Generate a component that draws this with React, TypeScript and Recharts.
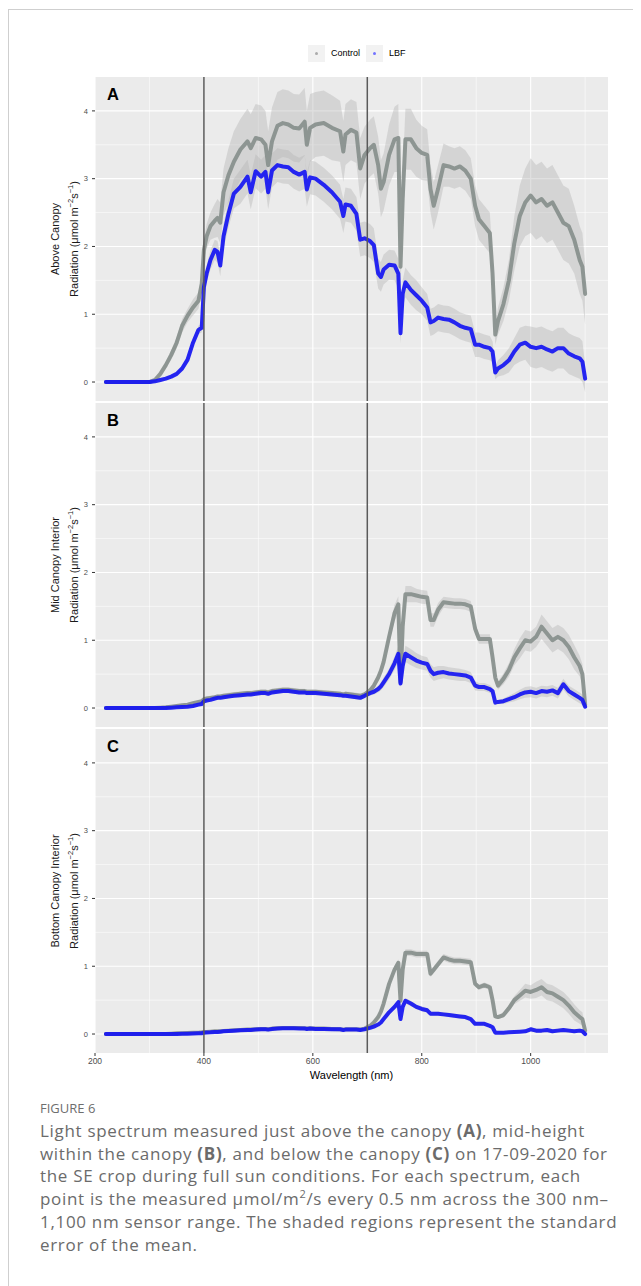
import React from 'react';
import { ComposedChart, Area, Line, XAxis, YAxis, CartesianGrid, ReferenceLine } from 'recharts';

// Wavelength grid (nm)
const wavelength = [
  220, 300, 310, 320, 330, 340, 350, 360, 370, 380,
  390, 396, 400, 405, 412, 420, 425, 430, 436, 445,
  455, 467, 480, 486, 495, 505, 513, 518, 525, 535,
  545, 555, 565, 575, 585, 589, 595, 605, 620, 635,
  650, 656, 660, 670, 680, 687, 695, 705, 712, 720,
  725, 730, 740, 750, 757, 761, 765, 770, 780, 790,
  800, 810, 816, 822, 830, 840, 850, 860, 870, 880,
  890, 898, 905, 915, 925, 930, 935, 940, 950, 960,
  970, 980, 990, 1000, 1010, 1020, 1030, 1040, 1050, 1060,
  1070, 1080, 1090, 1095, 1100,
];

// Panel A – above canopy
const ctrlA = [
  0, 0, 0.03, 0.12, 0.25, 0.40, 0.58, 0.83, 0.98, 1.10,
  1.20, 1.45, 1.95, 2.15, 2.30, 2.38, 2.42, 2.35, 2.80, 3.05,
  3.25, 3.43, 3.55, 3.45, 3.60, 3.58, 3.50, 3.20, 3.55, 3.78,
  3.82, 3.80, 3.75, 3.74, 3.84, 3.50, 3.75, 3.80, 3.82, 3.75,
  3.70, 3.40, 3.65, 3.72, 3.68, 3.15, 3.35, 3.45, 3.50, 3.20,
  2.85, 2.95, 3.35, 3.58, 3.60, 1.70, 2.70, 3.58, 3.58, 3.45,
  3.38, 3.35, 2.85, 2.60, 2.85, 3.20, 3.18, 3.15, 3.18, 3.12,
  3.00, 2.60, 2.40, 2.30, 2.20, 1.60, 0.70, 0.90, 1.15, 1.50,
  2.05, 2.45, 2.65, 2.75, 2.65, 2.70, 2.60, 2.65, 2.50, 2.35,
  2.30, 2.10, 1.80, 1.70, 1.30,
];
const lbfA = [
  0, 0, 0.01, 0.03, 0.05, 0.08, 0.12, 0.20, 0.33, 0.58,
  0.77, 0.80, 1.40, 1.60, 1.80, 1.95, 1.92, 1.72, 2.15, 2.48,
  2.78, 2.88, 3.03, 2.80, 3.11, 3.03, 3.10, 2.80, 3.12, 3.20,
  3.18, 3.17, 3.10, 3.06, 3.10, 2.84, 3.02, 3.00, 2.91, 2.80,
  2.66, 2.45, 2.62, 2.60, 2.48, 2.10, 2.12, 2.08, 2.02, 1.60,
  1.55, 1.66, 1.73, 1.72, 1.60, 0.72, 1.30, 1.47, 1.36, 1.28,
  1.20, 1.10, 0.88, 0.90, 0.95, 0.93, 0.92, 0.88, 0.83, 0.80,
  0.78, 0.55, 0.55, 0.52, 0.50, 0.45, 0.14, 0.20, 0.25, 0.32,
  0.45, 0.55, 0.58, 0.52, 0.50, 0.52, 0.48, 0.45, 0.50, 0.50,
  0.42, 0.38, 0.35, 0.30, 0.05,
];
const seCtrlA = [
  0, 0, 0.01, 0.03, 0.05, 0.07, 0.08, 0.10, 0.10, 0.12,
  0.12, 0.14, 0.15, 0.18, 0.20, 0.25, 0.28, 0.30, 0.35, 0.40,
  0.45, 0.45, 0.48, 0.50, 0.50, 0.50, 0.50, 0.50, 0.50, 0.50,
  0.50, 0.50, 0.50, 0.50, 0.50, 0.50, 0.50, 0.48, 0.48, 0.48,
  0.45, 0.45, 0.45, 0.45, 0.45, 0.45, 0.42, 0.42, 0.42, 0.42,
  0.42, 0.42, 0.45, 0.48, 0.50, 0.30, 0.40, 0.45, 0.45, 0.42,
  0.40, 0.38, 0.35, 0.35, 0.35, 0.32, 0.30, 0.30, 0.30, 0.30,
  0.30, 0.30, 0.30, 0.30, 0.30, 0.25, 0.15, 0.20, 0.25, 0.30,
  0.40, 0.45, 0.50, 0.55, 0.55, 0.55, 0.55, 0.55, 0.55, 0.55,
  0.55, 0.50, 0.50, 0.50, 0.45,
];
const seLbfA = [
  0, 0, 0, 0.01, 0.01, 0.02, 0.02, 0.03, 0.04, 0.05,
  0.06, 0.07, 0.10, 0.12, 0.14, 0.15, 0.16, 0.16, 0.18, 0.20,
  0.22, 0.25, 0.25, 0.25, 0.25, 0.25, 0.25, 0.25, 0.25, 0.25,
  0.25, 0.25, 0.25, 0.25, 0.25, 0.25, 0.25, 0.25, 0.25, 0.25,
  0.25, 0.25, 0.25, 0.25, 0.25, 0.25, 0.25, 0.25, 0.25, 0.22,
  0.22, 0.22, 0.22, 0.22, 0.22, 0.15, 0.20, 0.22, 0.22, 0.22,
  0.20, 0.20, 0.20, 0.20, 0.20, 0.20, 0.20, 0.20, 0.20, 0.20,
  0.20, 0.18, 0.18, 0.18, 0.18, 0.15, 0.10, 0.12, 0.15, 0.18,
  0.20, 0.25, 0.25, 0.30, 0.30, 0.30, 0.30, 0.30, 0.30, 0.30,
  0.30, 0.30, 0.30, 0.30, 0.20,
];

// Panel B – mid canopy interior
const ctrlB = [
  0, 0, 0, 0.005, 0.01, 0.02, 0.03, 0.04, 0.05, 0.07,
  0.09, 0.10, 0.13, 0.14, 0.15, 0.16, 0.17, 0.17, 0.18, 0.19,
  0.20, 0.21, 0.22, 0.22, 0.23, 0.24, 0.24, 0.23, 0.25, 0.26,
  0.27, 0.27, 0.26, 0.25, 0.25, 0.24, 0.24, 0.24, 0.23, 0.22,
  0.21, 0.20, 0.21, 0.20, 0.19, 0.18, 0.20, 0.26, 0.33, 0.45,
  0.55, 0.68, 1.05, 1.40, 1.53, 0.38, 1.20, 1.68, 1.68, 1.66,
  1.64, 1.63, 1.30, 1.30, 1.45, 1.56, 1.55, 1.54, 1.54, 1.53,
  1.50, 1.17, 1.02, 1.02, 1.02, 0.75, 0.45, 0.33, 0.43, 0.56,
  0.75, 0.88, 1.00, 0.98, 1.05, 1.20, 1.10, 1.00, 1.05, 1.00,
  0.90, 0.75, 0.62, 0.50, 0.05,
];
const lbfB = [
  0, 0, 0, 0, 0, 0.005, 0.01, 0.015, 0.02, 0.03,
  0.05, 0.06, 0.10, 0.11, 0.12, 0.14, 0.15, 0.15, 0.16, 0.17,
  0.18, 0.19, 0.20, 0.20, 0.21, 0.22, 0.22, 0.21, 0.23, 0.24,
  0.25, 0.25, 0.24, 0.23, 0.23, 0.22, 0.22, 0.22, 0.21, 0.20,
  0.19, 0.18, 0.18, 0.17, 0.16, 0.15, 0.18, 0.22, 0.24, 0.28,
  0.32, 0.38, 0.50, 0.66, 0.80, 0.36, 0.62, 0.80, 0.75, 0.70,
  0.67, 0.65, 0.55, 0.50, 0.52, 0.53, 0.51, 0.50, 0.49, 0.48,
  0.45, 0.33, 0.31, 0.31, 0.28, 0.25, 0.08, 0.09, 0.10, 0.13,
  0.16, 0.20, 0.23, 0.24, 0.22, 0.25, 0.24, 0.26, 0.22, 0.35,
  0.25, 0.20, 0.15, 0.12, 0.02,
];
const seCtrlB = [
  0, 0, 0, 0, 0.005, 0.01, 0.01, 0.015, 0.02, 0.02,
  0.02, 0.025, 0.03, 0.03, 0.03, 0.03, 0.03, 0.03, 0.03, 0.035,
  0.035, 0.035, 0.035, 0.035, 0.035, 0.035, 0.035, 0.035, 0.035, 0.035,
  0.035, 0.035, 0.035, 0.035, 0.035, 0.035, 0.035, 0.035, 0.035, 0.035,
  0.035, 0.035, 0.035, 0.035, 0.035, 0.035, 0.035, 0.04, 0.05, 0.06,
  0.07, 0.08, 0.10, 0.12, 0.12, 0.05, 0.10, 0.12, 0.12, 0.10,
  0.10, 0.10, 0.10, 0.10, 0.10, 0.08, 0.08, 0.08, 0.08, 0.08,
  0.08, 0.08, 0.07, 0.07, 0.07, 0.06, 0.05, 0.06, 0.08, 0.10,
  0.12, 0.15, 0.15, 0.15, 0.15, 0.18, 0.18, 0.18, 0.18, 0.18,
  0.18, 0.18, 0.15, 0.15, 0.08,
];
const seLbfB = [
  0, 0, 0, 0, 0, 0.005, 0.01, 0.01, 0.01, 0.015,
  0.015, 0.02, 0.025, 0.025, 0.025, 0.025, 0.025, 0.025, 0.03, 0.03,
  0.03, 0.03, 0.03, 0.03, 0.03, 0.03, 0.03, 0.03, 0.03, 0.03,
  0.03, 0.03, 0.03, 0.03, 0.03, 0.03, 0.03, 0.03, 0.03, 0.03,
  0.03, 0.03, 0.03, 0.03, 0.03, 0.03, 0.03, 0.035, 0.04, 0.05,
  0.06, 0.07, 0.08, 0.10, 0.12, 0.06, 0.10, 0.12, 0.12, 0.11,
  0.10, 0.10, 0.10, 0.10, 0.10, 0.09, 0.09, 0.09, 0.09, 0.08,
  0.08, 0.07, 0.06, 0.06, 0.06, 0.05, 0.03, 0.03, 0.04, 0.05,
  0.06, 0.07, 0.08, 0.08, 0.08, 0.08, 0.08, 0.08, 0.08, 0.08,
  0.08, 0.08, 0.08, 0.08, 0.03,
];

// Panel C – bottom canopy interior
const ctrlC = [
  0, 0, 0, 0, 0, 0.005, 0.01, 0.01, 0.015, 0.02,
  0.02, 0.025, 0.03, 0.03, 0.035, 0.04, 0.04, 0.04, 0.045, 0.05,
  0.055, 0.06, 0.065, 0.065, 0.07, 0.075, 0.075, 0.07, 0.08, 0.085,
  0.09, 0.09, 0.09, 0.09, 0.085, 0.08, 0.085, 0.08, 0.08, 0.075,
  0.07, 0.065, 0.07, 0.07, 0.07, 0.065, 0.08, 0.12, 0.17, 0.25,
  0.33, 0.45, 0.74, 0.95, 1.05, 0.49, 0.95, 1.20, 1.20, 1.18,
  1.18, 1.18, 0.89, 0.95, 1.03, 1.13, 1.10, 1.08, 1.08, 1.07,
  1.06, 0.74, 0.69, 0.72, 0.69, 0.50, 0.26, 0.25, 0.28, 0.38,
  0.50, 0.57, 0.64, 0.62, 0.65, 0.69, 0.62, 0.60, 0.55, 0.50,
  0.42, 0.32, 0.25, 0.22, 0.05,
];
const lbfC = [
  0, 0, 0, 0, 0, 0, 0, 0.003, 0.005, 0.008,
  0.01, 0.012, 0.02, 0.022, 0.025, 0.03, 0.03, 0.035, 0.04, 0.045,
  0.05, 0.055, 0.06, 0.06, 0.065, 0.07, 0.07, 0.065, 0.075, 0.08,
  0.085, 0.085, 0.085, 0.08, 0.08, 0.075, 0.08, 0.075, 0.075, 0.07,
  0.07, 0.06, 0.065, 0.065, 0.065, 0.06, 0.07, 0.09, 0.11, 0.14,
  0.17, 0.22, 0.32, 0.40, 0.47, 0.22, 0.40, 0.49, 0.45, 0.40,
  0.37, 0.35, 0.30, 0.30, 0.30, 0.29, 0.28, 0.27, 0.26, 0.25,
  0.22, 0.15, 0.15, 0.15, 0.12, 0.10, 0.02, 0.02, 0.02, 0.025,
  0.03, 0.035, 0.04, 0.07, 0.05, 0.05, 0.06, 0.04, 0.05, 0.06,
  0.05, 0.04, 0.05, 0.04, 0,
];
const seCtrlC = [
  0, 0, 0, 0, 0, 0, 0.005, 0.005, 0.005, 0.01,
  0.01, 0.01, 0.012, 0.012, 0.012, 0.012, 0.012, 0.012, 0.015, 0.015,
  0.015, 0.015, 0.015, 0.015, 0.015, 0.015, 0.015, 0.015, 0.015, 0.015,
  0.015, 0.015, 0.015, 0.015, 0.015, 0.015, 0.015, 0.015, 0.015, 0.015,
  0.015, 0.015, 0.015, 0.015, 0.015, 0.015, 0.015, 0.02, 0.02, 0.025,
  0.03, 0.035, 0.04, 0.05, 0.05, 0.03, 0.05, 0.05, 0.05, 0.05,
  0.05, 0.05, 0.05, 0.05, 0.05, 0.05, 0.05, 0.05, 0.05, 0.05,
  0.05, 0.04, 0.04, 0.04, 0.04, 0.03, 0.03, 0.03, 0.04, 0.05,
  0.06, 0.08, 0.10, 0.10, 0.12, 0.12, 0.12, 0.12, 0.12, 0.12,
  0.12, 0.12, 0.10, 0.10, 0.05,
];
const seLbfC = [
  0, 0, 0, 0, 0, 0, 0, 0, 0.003, 0.005,
  0.005, 0.006, 0.008, 0.008, 0.008, 0.008, 0.008, 0.008, 0.01, 0.01,
  0.01, 0.01, 0.01, 0.01, 0.01, 0.01, 0.01, 0.01, 0.01, 0.01,
  0.01, 0.01, 0.01, 0.01, 0.01, 0.01, 0.01, 0.01, 0.01, 0.01,
  0.01, 0.01, 0.01, 0.01, 0.01, 0.01, 0.01, 0.012, 0.015, 0.02,
  0.02, 0.025, 0.03, 0.035, 0.04, 0.02, 0.035, 0.04, 0.04, 0.035,
  0.035, 0.035, 0.03, 0.03, 0.03, 0.03, 0.03, 0.03, 0.03, 0.03,
  0.03, 0.025, 0.025, 0.025, 0.02, 0.02, 0.01, 0.01, 0.01, 0.01,
  0.015, 0.015, 0.02, 0.03, 0.03, 0.03, 0.03, 0.03, 0.03, 0.03,
  0.03, 0.03, 0.03, 0.03, 0.01,
];

const yTicks = [0, 1, 2, 3, 4];
const yMinor = [0.5, 1.5, 2.5, 3.5];
const xTicks = [200, 400, 600, 800, 1000];
const xMinor = [300, 500, 700, 900, 1100];
const vLines = [400, 700];
const seriesNames = ['Control', 'LBF'];
const panelTitles = ['Above Canopy', 'Mid Canopy Interior', 'Bottom Canopy Interior'];
const panelLetters = ['A', 'B', 'C'];

const CHART_FONT = '"Liberation Sans", Arial, sans-serif';
const CTRL_COLOR = '#858e8b';
const LBF_COLOR = '#1515f2';

function buildRows(ctrl: number[], lbf: number[], seC: number[], seL: number[]) {
  return wavelength.map((w, i) => ({
    w,
    ctrl: ctrl[i],
    lbf: lbf[i],
    ctrlBand: [ctrl[i] - seC[i], ctrl[i] + seC[i]],
    lbfBand: [lbf[i] - seL[i], lbf[i] + seL[i]],
  }));
}

const panelData = [
  buildRows(ctrlA, lbfA, seCtrlA, seLbfA),
  buildRows(ctrlB, lbfB, seCtrlB, seLbfB),
  buildRows(ctrlC, lbfC, seCtrlC, seLbfC),
];

// layout (page coords, body margin 8)
const OFF = 8;
const panelPlotTop = [77, 403, 729];
const PLOT_H = 324;
const PLOT_LEFT = 95;
const PLOT_RIGHT = 608;

function Panel({ idx }: { idx: number }) {
  const showX = idx === 2;
  const top = panelPlotTop[idx] - 5;
  const height = 5 + PLOT_H + (showX ? 30 : 0);
  return (
    <div style={{ position: 'absolute', left: 0, top: top - OFF }}>
      <ComposedChart
        width={PLOT_RIGHT - OFF + 10}
        height={height}
        data={panelData[idx]}
        margin={{ top: 5, right: 10, bottom: 0, left: 0 }}
      >
        <CartesianGrid
          fill="#EBEBEB"
          stroke="#FFFFFF"
          strokeWidth={0.55}
          horizontalValues={yMinor}
          verticalValues={xMinor}
        />
        <CartesianGrid
          fill="none"
          stroke="#FFFFFF"
          strokeWidth={1.1}
          horizontalValues={yTicks}
          verticalValues={xTicks}
        />
        <XAxis
          type="number"
          dataKey="w"
          domain={[200, 1142]}
          allowDataOverflow
          ticks={xTicks}
          hide={!showX}
          height={30}
          axisLine={false}
          tickSize={3}
          tickMargin={2}
          tickLine={{ stroke: '#333333', strokeWidth: 1 }}
          tick={{ fontSize: 8.5, fill: '#4D4D4D', fontFamily: CHART_FONT }}
        />
        <YAxis
          type="number"
          domain={[-0.28, 4.5]}
          allowDataOverflow
          ticks={yTicks}
          width={PLOT_LEFT - OFF}
          axisLine={false}
          tickSize={3}
          tickMargin={4}
          tickLine={{ stroke: '#333333', strokeWidth: 1 }}
          tick={{ fontSize: 7.5, fill: '#4D4D4D', fontFamily: CHART_FONT }}
        />
        <Area
          type="linear"
          dataKey="ctrlBand"
          stroke="none"
          fill="#B4B4B4"
          fillOpacity={0.42}
          isAnimationActive={false}
          dot={false}
          activeDot={false}
        />
        <Area
          type="linear"
          dataKey="lbfBand"
          stroke="none"
          fill="#B4B4B4"
          fillOpacity={0.42}
          isAnimationActive={false}
          dot={false}
          activeDot={false}
        />
        <Line
          type="linear"
          dataKey="ctrl"
          name={seriesNames[0]}
          stroke={CTRL_COLOR}
          strokeWidth={4}
          strokeOpacity={0.9}
          strokeLinejoin="round"
          strokeLinecap="round"
          dot={false}
          activeDot={false}
          isAnimationActive={false}
        />
        <Line
          type="linear"
          dataKey="lbf"
          name={seriesNames[1]}
          stroke={LBF_COLOR}
          strokeWidth={4}
          strokeOpacity={0.92}
          strokeLinejoin="round"
          strokeLinecap="round"
          dot={false}
          activeDot={false}
          isAnimationActive={false}
        />
        {vLines.map((v) => (
          <ReferenceLine key={v} x={v} stroke="#5A5A5A" strokeWidth={1.5} ifOverflow="visible" />
        ))}
      </ComposedChart>
    </div>
  );
}

function YLabel({ idx }: { idx: number }) {
  const cy = panelPlotTop[idx] + PLOT_H / 2 - OFF;
  const common: React.CSSProperties = {
    position: 'absolute',
    width: 240,
    height: 14,
    lineHeight: '14px',
    textAlign: 'center',
    fontFamily: CHART_FONT,
    fontSize: 11,
    color: '#1A1A1A',
    whiteSpace: 'nowrap',
    transform: 'rotate(-90deg)',
  };
  return (
    <>
      <div style={{ ...common, left: 55 - OFF - 120, top: cy - 7 }}>{panelTitles[idx]}</div>
      <div style={{ ...common, left: 74 - OFF - 120, top: cy - 7 }}>
        Radiation (μmol m<sup style={{ fontSize: 7.5, lineHeight: 0 }}>−2</sup>s
        <sup style={{ fontSize: 7.5, lineHeight: 0 }}>−1</sup>)
      </div>
    </>
  );
}

function LegendKey({ left, color, label }: { left: number; color: string; label: string }) {
  return (
    <>
      <div
        style={{
          position: 'absolute',
          left: left - OFF,
          top: 45 - OFF,
          width: 17,
          height: 17,
          background: '#F2F2F2',
        }}
      >
        <div
          style={{
            position: 'absolute',
            left: 7,
            top: 7,
            width: 3.4,
            height: 3.4,
            borderRadius: '50%',
            background: color,
          }}
        />
      </div>
      <div
        style={{
          position: 'absolute',
          left: left + 23 - OFF,
          top: 47 - OFF,
          fontFamily: CHART_FONT,
          fontSize: 9,
          lineHeight: '13px',
          color: '#000',
          whiteSpace: 'nowrap',
        }}
      >
        {label}
      </div>
    </>
  );
}

const captionLines: React.ReactNode[] = [
  <>Light spectrum measured just above the canopy <b>(A)</b>, mid-height</>,
  <>within the canopy <b>(B)</b>, and below the canopy <b>(C)</b> on 17-09-2020 for</>,
  <>the SE crop during full sun conditions. For each spectrum, each</>,
  <>point is the measured μmol/m<sup style={{ fontSize: 11, lineHeight: 0 }}>2</sup>/s every 0.5 nm across the 300 nm–</>,
  <>1,100 nm sensor range. The shaded regions represent the standard</>,
  <>error of the mean.</>,
];

export default function App() {
  return (
    <div
      style={{
        position: 'relative',
        width: 633,
        height: 1277,
        borderTop: '1px solid #CFCFCF',
        borderLeft: '1px solid #CFCFCF',
        marginTop: 1,
        boxSizing: 'border-box',
        overflow: 'hidden',
        background: '#FFFFFF',
      }}
    >
      <div style={{ position: 'absolute', left: -1, top: -2 }}>
        <div style={{ position: 'relative' }}>
          <LegendKey left={308} color="#ABABAB" label={seriesNames[0]} />
          <LegendKey left={366} color="#7373FF" label={seriesNames[1]} />
          {[0, 1, 2].map((i) => (
            <Panel key={i} idx={i} />
          ))}
          {[0, 1, 2].map((i) => (
            <YLabel key={'yl' + i} idx={i} />
          ))}
          {[0, 1, 2].map((i) => (
            <div
              key={'pl' + i}
              style={{
                position: 'absolute',
                left: 107 - OFF,
                top: panelPlotTop[i] + 9 - OFF,
                fontFamily: CHART_FONT,
                fontWeight: 700,
                fontSize: 16.5,
                lineHeight: '16px',
                color: '#000',
              }}
            >
              {panelLetters[i]}
            </div>
          ))}
          <div
            style={{
              position: 'absolute',
              left: 0,
              width: 703 - 2 * OFF,
              top: 1069 - OFF,
              textAlign: 'center',
              fontFamily: CHART_FONT,
              fontSize: 11,
              lineHeight: '12px',
              color: '#000',
            }}
          >
            Wavelength (nm)
          </div>
          <div
            style={{
              position: 'absolute',
              left: 40 - OFF,
              top: 1100 - OFF,
              fontFamily: '"Open Sans", sans-serif',
              fontSize: 13,
              lineHeight: '16px',
              color: '#6E6E6E',
              whiteSpace: 'nowrap',
            }}
          >
            FIGURE 6
          </div>
          {captionLines.map((ln, i) => (
            <div
              key={'cap' + i}
              style={{
                position: 'absolute',
                left: 40 - OFF,
                top: 1120 + i * 22.7 - OFF,
                fontFamily: '"Open Sans", sans-serif',
                fontSize: 17,
                letterSpacing: 0.68,
                lineHeight: '22px',
                color: '#6B6B6B',
                whiteSpace: 'nowrap',
              }}
            >
              {ln}
            </div>
          ))}
        </div>
      </div>
    </div>
  );
}
